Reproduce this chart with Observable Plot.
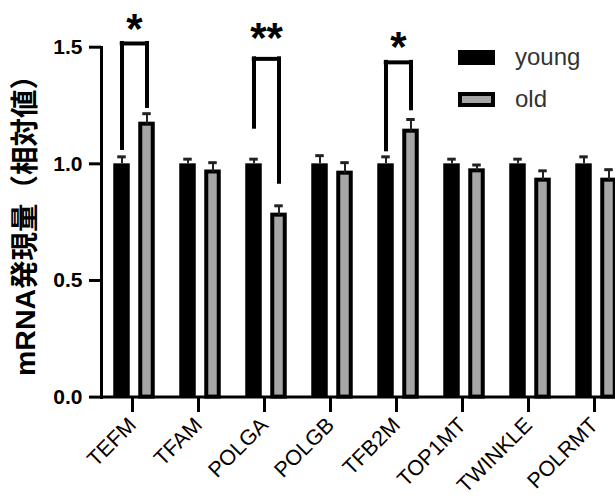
<!DOCTYPE html>
<html>
<head>
<meta charset="utf-8">
<script src="https://cdn.jsdelivr.net/npm/d3@7"></script>
<script src="https://cdn.jsdelivr.net/npm/@observablehq/plot@0.6"></script>
<style>
  html, body { margin: 0; padding: 0; background: white; overflow: hidden; }
  #wrap { position: relative; width: 615px; height: 500px; }
  .leg { position: absolute; font-family: "Liberation Sans", Arial, sans-serif; font-size: 24px; color: #333; }
  .sw { position: absolute; width: 37px; height: 15px; box-sizing: border-box; }
</style>
</head>
<body>
<div id="wrap"></div>
<script>
// ---- data ----
const genes = ["TEFM", "TFAM", "POLGA", "POLGB", "TFB2M", "TOP1MT", "TWINKLE", "POLRMT"];
const youngMean = [1.00, 1.00, 1.00, 1.00, 1.00, 1.00, 1.00, 1.00];
const youngErr  = [0.03, 0.02, 0.02, 0.035, 0.03, 0.02, 0.02, 0.03];
const oldMean   = [1.17, 0.965, 0.78, 0.96, 1.14, 0.97, 0.93, 0.93];
const oldErr    = [0.045, 0.04, 0.04, 0.045, 0.05, 0.025, 0.04, 0.045];
const seriesNames = ["young", "old"];
const yTicks = [0, 0.5, 1.0, 1.5];
const yLabel = "mRNA発現量（相対値）";
// significance brackets
const sigGenes  = ["TEFM", "POLGA", "TFB2M"];
const sigLeft   = [1.066, 1.157, 1.06];
const sigRight  = [1.246, 0.921, 1.236];
const sigTop    = [1.516, 1.45, 1.435];
const sigStarY  = [1.597, 1.558, 1.52];
const sigLabel  = ["*", "**", "*"];

const young = genes.map((g, i) => ({gene: g, value: youngMean[i], err: youngErr[i]}));
const old = genes.map((g, i) => ({gene: g, value: oldMean[i], err: oldErr[i]}));
const sig = sigGenes.map((g, i) => ({gene: g, left: sigLeft[i], right: sigRight[i], top: sigTop[i], star: sigStarY[i], label: sigLabel[i]}));

const step = 66.5, half = step / 2, off = 12.5;

const chart = Plot.plot({
  width: 615,
  height: 500,
  marginLeft: 101,
  marginRight: 0,
  marginTop: 47,
  marginBottom: 103,
  style: {fontFamily: "'Liberation Sans', 'Noto Sans CJK JP', Arial, sans-serif", color: "black", background: "white"},
  x: {type: "band", domain: genes, range: [99, 99 + step * genes.length], padding: 0},
  y: {domain: [0, 1.5], range: [396.6, 46.7]},
  marks: [
    Plot.barY(young, {x: "gene", y: "value", fill: "black", insetLeft: half - 21, insetRight: half + 4}),
    Plot.barY(old, {x: "gene", y: "value", fill: "#a6a6a6", stroke: "black", strokeWidth: 4, insetLeft: half + 6, insetRight: half - 19}),
    // error bars
    Plot.ruleX(young, {x: "gene", y1: "value", y2: d => d.value + d.err, dx: -off, stroke: "#222", strokeWidth: 2}),
    Plot.tickY(young, {x: "gene", y: d => d.value + d.err, insetLeft: half - off - 4.5, insetRight: half + off - 4.5, stroke: "#222", strokeWidth: 3}),
    Plot.ruleX(old, {x: "gene", y1: "value", y2: d => d.value + d.err, dx: off, stroke: "#222", strokeWidth: 2}),
    Plot.tickY(old, {x: "gene", y: d => d.value + d.err, insetLeft: half + off - 4.5, insetRight: half - off - 4.5, stroke: "#222", strokeWidth: 3}),
    // brackets
    Plot.ruleX(sig, {x: "gene", y1: "left", y2: "top", dx: -off, stroke: "black", strokeWidth: 4, strokeLinecap: "square"}),
    Plot.ruleX(sig, {x: "gene", y1: "right", y2: "top", dx: off, stroke: "black", strokeWidth: 4, strokeLinecap: "square"}),
    Plot.tickY(sig, {x: "gene", y: "top", insetLeft: half - off, insetRight: half - off, stroke: "black", strokeWidth: 4, strokeLinecap: "square"}),
    Plot.text(sig, {x: "gene", y: "star", text: "label", fontSize: 42, fontWeight: "bold", fill: "black", dy: 5}),
    // axes
    Plot.ruleY([0], {stroke: "black", strokeWidth: 3}),
    Plot.frame({anchor: "left", stroke: "black", strokeWidth: 3}),
    Plot.axisY({ticks: yTicks, tickFormat: d3.format(".1f"), tickSize: 12, tickPadding: 7, fontSize: 21, fontWeight: "bold", strokeWidth: 3, label: null}),
    Plot.axisX({tickRotate: -45, tickSize: 15, tickPadding: 9, dx: -2, fontSize: 21.5, strokeWidth: 3, label: null}),
    Plot.text([yLabel], {frameAnchor: "left", textAnchor: "middle", rotate: -90, dx: -76, dy: -4, fontSize: 28.5, fontWeight: "bold", fill: "black"})
  ]
});

const wrap = document.getElementById("wrap");
wrap.appendChild(chart);

// legend
const legendTops = [50, 92];
seriesNames.forEach((name, i) => {
  const sw = document.createElement("div");
  sw.className = "sw";
  sw.style.left = "458px";
  sw.style.top = legendTops[i] + "px";
  if (i === 0) { sw.style.background = "black"; }
  else { sw.style.background = "#a6a6a6"; sw.style.border = "4px solid black"; }
  wrap.appendChild(sw);
  const t = document.createElement("div");
  t.className = "leg";
  t.textContent = name;
  t.style.left = "515px";
  t.style.top = (legendTops[i] - 7) + "px";
  t.style.lineHeight = "28px";
  wrap.appendChild(t);
});
</script>
</body>
</html>
